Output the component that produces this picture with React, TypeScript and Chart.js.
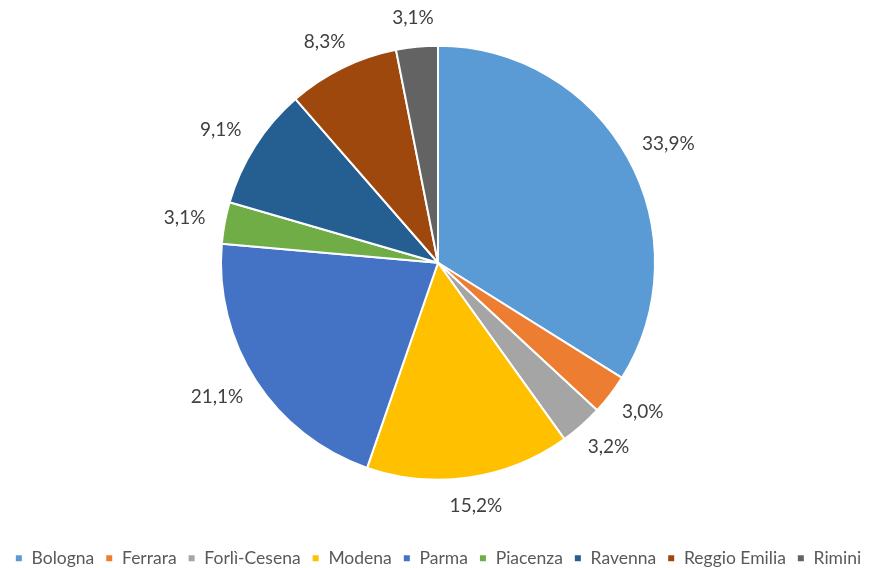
import React, { useEffect, useRef } from "react";
import { Chart, registerables } from "chart.js";

Chart.register(...registerables);

const categories = ["Bologna", "Ferrara", "Forlì-Cesena", "Modena", "Parma", "Piacenza", "Ravenna", "Reggio Emilia", "Rimini"];
const values = [33.9, 3.0, 3.2, 15.2, 21.1, 3.1, 9.1, 8.3, 3.1];
const colors = ["#5B9BD5", "#ED7D31", "#A5A5A5", "#FFC000", "#4472C4", "#70AD47", "#255E91", "#9E480E", "#636363"];

const FONT = "Lato, 'Open Sans', sans-serif";

const labelPlugin = {
  id: "outLabels",
  afterDatasetsDraw(chart: any) {
    const ctx = chart.ctx;
    const meta = chart.getDatasetMeta(0);
    ctx.save();
    ctx.font = `19px ${FONT}`;
    ctx.fillStyle = "#404040";
    ctx.textAlign = "center";
    ctx.textBaseline = "middle";
    meta.data.forEach((arc: any, i: number) => {
      const p = arc.getProps(["x", "y", "startAngle", "endAngle", "outerRadius"], true);
      const mid = (p.startAngle + p.endAngle) / 2;
      const text = values[i].toFixed(1).replace(".", ",") + "%";
      const w = ctx.measureText(text).width;
      const h = 18;
      const r = p.outerRadius + 20;
      const ax = p.x + Math.cos(mid) * r;
      const ay = p.y + Math.sin(mid) * r;
      const tx = ax + Math.cos(mid) * (w / 2);
      const ty = ay + Math.sin(mid) * (h / 2);
      ctx.fillText(text, tx, ty);
    });
    ctx.restore();
  },
};

export default function App() {
  const ref = useRef<HTMLCanvasElement>(null);
  useEffect(() => {
    document.body.style.margin = "0";
    const chart = new Chart(ref.current!, {
      type: "pie",
      data: {
        labels: categories,
        datasets: [
          {
            data: values,
            backgroundColor: colors,
            borderColor: "#FFFFFF",
            borderWidth: 2,
            radius: 217,
          } as any,
        ],
      },
      options: {
        responsive: false,
        animation: false,
        layout: { padding: { top: 0, bottom: -9, left: 0, right: 3 } },
        plugins: {
          tooltip: { enabled: false },
          legend: {
            position: "bottom",
            title: { display: true, text: " ", font: { size: 10, lineHeight: 1 }, padding: { top: 3, bottom: 0 } },
            labels: {
              boxWidth: 8,
              boxHeight: 8,
              padding: 11,
              color: "#595959",
              font: { family: FONT, size: 17.5 },
            },
          },
        },
      },
      plugins: [labelPlugin],
    });
    return () => chart.destroy();
  }, []);
  return (
    <div style={{ width: 879, height: 568, background: "#fff" }}>
      <canvas ref={ref} width={879} height={568} />
    </div>
  );
}
